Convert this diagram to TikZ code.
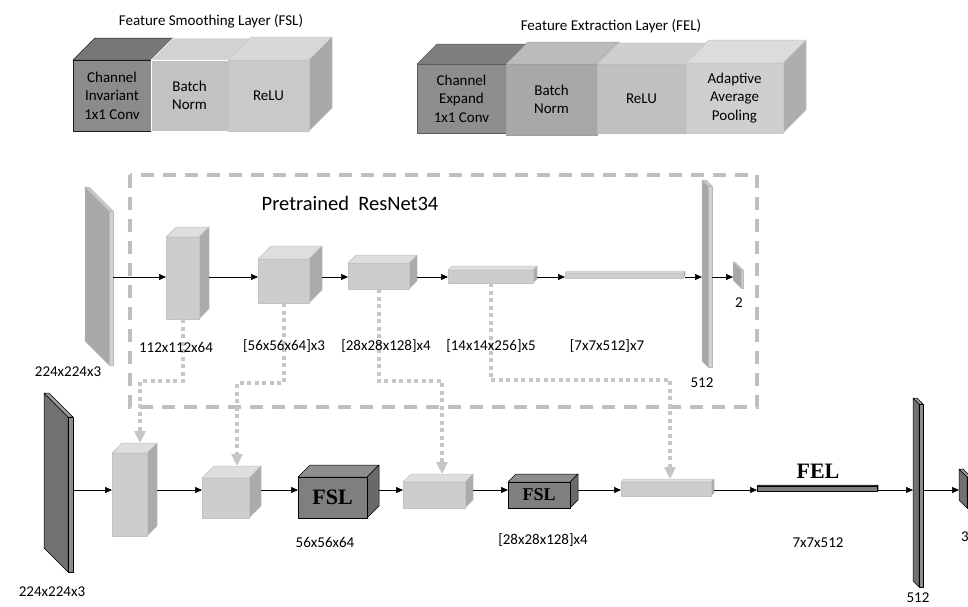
\documentclass[tikz,border=0pt]{standalone}
\usepackage{fontspec}
\setmainfont{Carlito}
\newfontfamily\serifbold{Liberation Serif}
\usetikzlibrary{arrows.meta}

% face colours: -f front, -t top, -s side, -l outline
\definecolor{lg-f}{HTML}{CDCDCD}\definecolor{lg-t}{HTML}{DEDEDE}\definecolor{lg-s}{HTML}{ABABAB}\definecolor{lg-l}{HTML}{C2C2C2}
\definecolor{dg-f}{HTML}{7F7F7F}\definecolor{dg-t}{HTML}{8E8E8E}\definecolor{dg-s}{HTML}{696969}\definecolor{dg-l}{HTML}{000000}
\definecolor{ci-f}{HTML}{8B8B8B}\definecolor{ci-t}{HTML}{777777}\definecolor{ci-s}{HTML}{6E6E6E}\definecolor{ci-l}{HTML}{1A1A1A}
\definecolor{bnA-f}{HTML}{C2C2C2}\definecolor{bnA-t}{HTML}{D2D2D2}\definecolor{bnA-s}{HTML}{A5A5A5}\definecolor{bnA-l}{HTML}{FFFFFF}
\definecolor{reA-f}{HTML}{C9C9C9}\definecolor{reA-t}{HTML}{D8D8D8}\definecolor{reA-s}{HTML}{A9A9A9}\definecolor{reA-l}{HTML}{C4C4C4}
\definecolor{ce-f}{HTML}{8E8E8E}\definecolor{ce-t}{HTML}{7E7E7E}\definecolor{ce-s}{HTML}{707070}\definecolor{ce-l}{HTML}{5A5A5A}
\definecolor{bnB-f}{HTML}{A8A8A8}\definecolor{bnB-t}{HTML}{BBBBBB}\definecolor{bnB-s}{HTML}{909090}\definecolor{bnB-l}{HTML}{A0A0A0}
\definecolor{reB-f}{HTML}{C0C0C0}\definecolor{reB-t}{HTML}{CFCFCF}\definecolor{reB-s}{HTML}{A2A2A2}\definecolor{reB-l}{HTML}{BABABA}
\definecolor{ap-f}{HTML}{CFCFCF}\definecolor{ap-t}{HTML}{DCDCDC}\definecolor{ap-s}{HTML}{AEAEAE}\definecolor{ap-l}{HTML}{C8C8C8}
\definecolor{ls-f}{HTML}{D2D2D2}\definecolor{ls-t}{HTML}{C8C8C8}\definecolor{ls-s}{HTML}{A8A8A8}\definecolor{ls-l}{HTML}{B8B8B8}
\definecolor{ds-f}{HTML}{8C8C8C}\definecolor{ds-t}{HTML}{9A9A9A}\definecolor{ds-s}{HTML}{717171}\definecolor{ds-l}{HTML}{000000}
\definecolor{dashgray}{HTML}{BFBFBF}
\definecolor{dotgray}{HTML}{C6C6C6}

\tikzset{
    face/.style={line width=0.5pt, line join=round},
    box/.style={inner sep=0pt, outer sep=0pt, align=center},
    link/.style={draw=black, line width=0.6pt, -{Triangle[length=7pt,width=6pt]}},
    skip/.style={draw=dotgray, line width=4pt, dash pattern=on 4pt off 3.5pt, -{Triangle[length=12pt,width=11pt,fill=dotgray]}},
    dashbox/.style={draw=dashgray, line width=4pt, dash pattern=on 13pt off 9pt},
    bigtag/.style={font=\serifbold\bfseries\fontsize{22}{24}\selectfont}
}

% cube: name, x1, y1, x2, y2 (front face), depth, colour kind, text
\newcommand{\cube}[8]{%
    \path[face, fill=#7-t, draw=#7-l] (#2,#3) -- ({#2+#6},{#3-#6}) -- ({#4+#6},{#3-#6}) -- (#4,#3) -- cycle;
    \path[face, fill=#7-s, draw=#7-l] (#4,#3) -- ({#4+#6},{#3-#6}) -- ({#4+#6},{#5-#6}) -- (#4,#5) -- cycle;
    \path[face, fill=#7-f, draw=#7-l] (#2,#3) rectangle (#4,#5);
    \node[box, minimum width={(#4-#2)*1pt}, minimum height={(#5-#3)*1pt}] (#1) at ({(#2+#4)/2},{(#3+#5)/2}) {#8};
    \node[box, minimum width={(#4+#6-#2)*1pt}, minimum height={(#5-#3+#6)*1pt}] (#1-all) at ({(#2+#4+#6)/2},{(#3+#5-#6)/2}) {};
}
% slab: thin front strip, big face going back to the upper left
\newcommand{\slab}[7]{%
    \path[face, fill=#7-s, draw=#7-l] (#2,#3) -- ({#2-#6},{#3-#6}) -- ({#2-#6},{#5-#6}) -- (#2,#5) -- cycle;
    \path[face, fill=#7-t, draw=#7-l] (#2,#3) -- ({#2-#6},{#3-#6}) -- ({#4-#6},{#3-#6}) -- (#4,#3) -- cycle;
    \path[face, fill=#7-f, draw=#7-l] (#2,#3) rectangle (#4,#5);
    \node[box, minimum width={(#4-#2)*1pt}, minimum height={(#5-#3)*1pt}] (#1) at ({(#2+#4)/2},{(#3+#5)/2}) {};
    \node[box, minimum width={(#4-#2+#6)*1pt}, minimum height={(#5-#3+#6)*1pt}] (#1-all) at ({(#2+#4-#6)/2},{(#3+#5-#6)/2}) {};
}

\begin{document}
\begin{tikzpicture}[x=1pt, y=-1pt, font=\fontsize{15}{18.5}\selectfont]
    \useasboundingbox (0,0) rectangle (968,606);

    % legend: FSL
    \node (fsltitle) at (211,21) {Feature Smoothing Layer (FSL)};
    \cube{ci}{73}{60}{151}{131}{22}{ci}{Channel\\Invariant\\1x1 Conv}
    \cube{bn1}{151}{60}{228}{131}{22}{bnA}{Batch\\Norm}
    \cube{relu1}{228}{60}{309}{131}{23}{reA}{ReLU}

    % legend: FEL
    \node (feltitle) at (611,26) {Feature Extraction Layer (FEL)};
    \cube{ce}{417}{64}{506}{133}{20}{ce}{Channel\\Expand\\1x1 Conv}
    \cube{bn2}{506}{64}{597}{135}{22}{bnB}{Batch\\Norm}
    \cube{relu2}{597}{64}{686}{133}{21}{reB}{ReLU}
    \cube{aap}{686}{63}{783}{133}{23}{ap}{Adaptive\\Average\\Pooling}

    % pretrained branch
    \draw[dashbox] (130,175) rectangle (757,407);
    \node (pre) at (350,203) {\fontsize{20.5}{24}\selectfont Pretrained\hspace{0.45em}ResNet34};

    \slab{in1}{109}{211}{113}{365}{24}{ls}
    \cube{b1}{166}{237}{199}{319}{10}{lg}{}
    \cube{b2}{258}{259}{309}{303}{13}{lg}{}
    \cube{b3}{348}{263}{409}{289}{8}{lg}{}
    \cube{b4}{448}{270}{533}{283}{4}{lg}{}
    \cube{b5}{565}{273}{683}{278}{2}{lg}{}
    \slab{fc1}{708}{186}{712}{367}{6}{ls}
    \slab{out1}{741}{270}{743}{288}{8}{ls}

    % main branch
    \slab{in2}{68}{417}{73}{572}{24}{ds}
    \cube{c1}{112}{453}{147}{536}{10}{lg}{}
    \cube{c2}{202}{478}{249}{518}{12}{lg}{}
    \cube{fsl1}{298}{477}{367}{518}{12}{dg}{\serifbold\bfseries\fontsize{22}{24}\selectfont FSL}
    \cube{c3}{403}{482}{465}{508}{8}{lg}{}
    \cube{fsl2}{508}{482}{570}{508}{8}{dg}{\serifbold\bfseries\fontsize{18}{20}\selectfont FSL}
    \cube{c4}{621}{482}{711}{496}{3}{lg}{}
    \cube{fel}{757}{486}{877}{491}{1}{dg}{}
    \node[bigtag] (feltag) at (818,471) {FEL};
    \slab{fc2}{919}{404}{923}{587}{6}{ds}
    \slab{out2}{967}{477}{971}{508}{8}{ds}

    \coordinate (row1) at (0,277);
    \coordinate (row2) at (0,490);
    \draw[link] (in1.east |- row1) -- (b1.west |- row1);
    \draw[link] (b1-all.east |- row1) -- (b2.west |- row1);
    \draw[link] (b2-all.east |- row1) -- (b3.west |- row1);
    \draw[link] (b3-all.east |- row1) -- (b4.west |- row1);
    \draw[link] (b4-all.east |- row1) -- (b5.west |- row1);
    \draw[link] (b5-all.east |- row1) -- (fc1-all.west |- row1);
    \draw[link] (fc1.east |- row1) -- (out1-all.west |- row1);

    \draw[link] (in2.east |- row2) -- (c1.west |- row2);
    \draw[link] (c1-all.east |- row2) -- (c2.west |- row2);
    \draw[link] (c2-all.east |- row2) -- (fsl1.west |- row2);
    \draw[link] (fsl1-all.east |- row2) -- (c3.west |- row2);
    \draw[link] (c3-all.east |- row2) -- (fsl2.west |- row2);
    \draw[link] (fsl2-all.east |- row2) -- (c4.west |- row2);
    \draw[link] (c4-all.east |- row2) -- (fel.west |- row2);
    \draw[link] (fel.east |- row2) -- (fc2-all.west |- row2);
    \draw[link] (fc2.east |- row2) -- (out2-all.west |- row2);

    % skip connections
    \coordinate (d1) at (140,381);
    \coordinate (d2) at (237,383);
    \coordinate (d3) at (442,381);
    \coordinate (d4) at (670,380);
    \draw[skip] (b1.south) |- (d1) -- (d1 |- c1-all.north);
    \draw[skip] (b2.south) |- (d2) -- (d2 |- c2-all.north);
    \draw[skip] (b3.south) |- (d3) -- (d3 |- c3-all.north);
    \draw[skip] (b4.south) |- (d4) -- (d4 |- c4-all.north);

    % sizes
    \node (s224a) at (68,372) {224x224x3};
    \node (s112) at (176,347) {112x112x64};
    \node (s56) at (284,346) {[56x56x64]x3};
    \node (s28) at (386,346) {[28x28x128]x4};
    \node (s14) at (491,346) {[14x14x256]x5};
    \node (s7) at (607,346) {[7x7x512]x7};
    \node (s512a) at (702,383) {512};
    \node (s2) at (739,303) {2};

    \node (s224b) at (52,592) {224x224x3};
    \node (s56b) at (325,542) {56x56x64};
    \node (s28b) at (543,540) {[28x28x128]x4};
    \node (s7b) at (818,543) {7x7x512};
    \node (s512b) at (918,598) {512};
    \node (s3) at (965,537) {3};
\end{tikzpicture}
\end{document}
